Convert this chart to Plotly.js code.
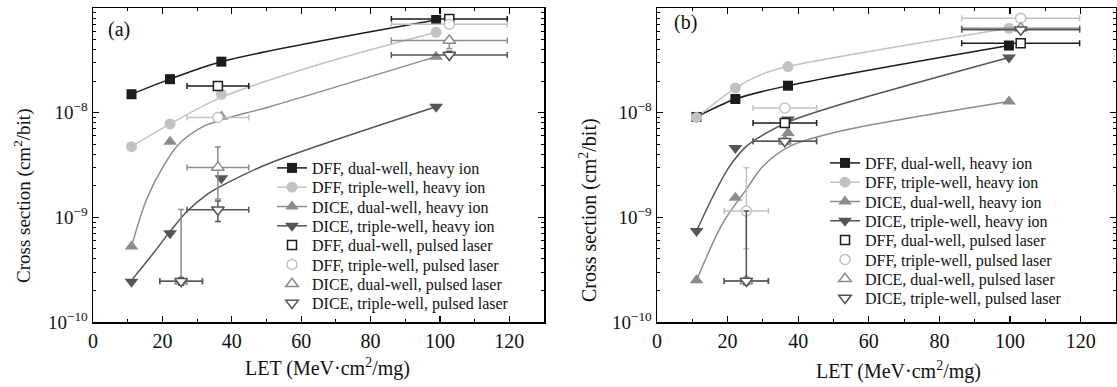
<!DOCTYPE html>
<html><head><meta charset="utf-8">
<script src="https://cdn.plot.ly/plotly-3.0.1.min.js"></script>
<style>html,body{margin:0;padding:0;background:#fff}#chart{width:1117px;height:387px}</style>
</head><body><div id="chart"></div>
<script>
// ===== Series names =====
const seriesNames = [
  "DFF, dual-well, heavy ion", "DFF, triple-well, heavy ion",
  "DICE, dual-well, heavy ion", "DICE, triple-well, heavy ion",
  "DFF, dual-well, pulsed laser", "DFF, triple-well, pulsed laser",
  "DICE, dual-well, pulsed laser", "DICE, triple-well, pulsed laser"
];
const xTickVals = [0, 20, 40, 60, 80, 100, 120];
const yTickVals = [1e-10, 1e-9, 1e-8, 1e-7];
const yTickText = ["10<sup>−10</sup>", "10<sup>−9</sup>", "10<sup>−8</sup>", "10<sup>−7</sup>"];

// ===== Panel (a): heavy ion =====
const aLET_HI = [11.1, 22.2, 37.0, 98.9];
const a_dffDual_HI = [1.5e-8, 2.09e-8, 3.07e-8, 7.68e-8];
const a_dffTriple_HI = [4.73e-9, 7.8e-9, 1.5e-8, 5.86e-8];
const a_diceDual_HI = [5.25e-10, 5.28e-9, 9.2e-9, 3.43e-8];
const a_diceTriple_HI = [2.43e-10, 7.05e-10, 2.36e-9, 1.14e-8];
// Panel (a): fitted curves
const a_fitDffDualX = [11.1, 22.2, 37.0, 98.9];
const a_fitDffDualY = [1.5e-8, 2.09e-8, 3.07e-8, 7.68e-8];
const a_fitDffTripleX = [11.1, 22.2, 37.0, 66.3, 98.9];
const a_fitDffTripleY = [4.73e-9, 7.8e-9, 1.4e-8, 2.96e-8, 5.86e-8];
const a_fitDiceDualX = [11.1, 15.4, 20.2, 25.0, 31.7, 38.5, 50.9, 98.9];
const a_fitDiceDualY = [5.25e-10, 1.47e-9, 3.05e-9, 5.1e-9, 7.35e-9, 8.83e-9, 1.14e-8, 3.43e-8];
const a_fitDiceTripleX = [11.1, 17.4, 22.2, 27.0, 32.7, 39.4, 50.9, 98.9];
const a_fitDiceTripleY = [2.5e-10, 4.54e-10, 7.3e-10, 1.13e-9, 1.64e-9, 2.19e-9, 3.29e-9, 1.14e-8];
// Panel (a): pulsed laser
const a_dffDual_PL_x = [36.0, 102.7];
const a_dffDual_PL_y = [1.8e-8, 7.85e-8];
const a_dffDual_PL_xerr = [8.9, 16.7];
const a_dffDual_PL_yerr = [1.2e-9, 3e-9];
const a_dffTriple_PL_x = [36.0, 102.7];
const a_dffTriple_PL_y = [9.0e-9, 7.0e-8];
const a_dffTriple_PL_xerr = [8.9, 16.7];
const a_dffTriple_PL_yerr = [5e-10, 2.5e-9];
const a_diceDual_PL_x = [25.4, 36.0, 102.7];
const a_diceDual_PL_y = [2.45e-10, 3.0e-9, 4.9e-8];
const a_diceDual_PL_xerr = [6.15, 8.9, 16.7];
const a_diceDual_PL_yplus = [9.4e-10, 1.7e-9, 2e-9];
const a_diceDual_PL_yminus = [2e-11, 1.5e-9, 8e-9];
const a_diceTriple_PL_x = [25.4, 36.0, 102.7];
const a_diceTriple_PL_y = [2.45e-10, 1.18e-9, 3.56e-8];
const a_diceTriple_PL_xerr = [6.15, 8.9, 16.7];
const a_diceTriple_PL_yplus = [2e-11, 2.5e-10, 3e-9];
const a_diceTriple_PL_yminus = [2e-11, 2.7e-10, 2e-9];

// ===== Panel (b): heavy ion =====
const bLET_HI = [11.2, 22.2, 37.1, 99.7];
const b_dffDual_HI = [9.1e-9, 1.35e-8, 1.81e-8, 4.38e-8];
const b_dffTriple_HI = [9.0e-9, 1.72e-8, 2.76e-8, 6.4e-8];
const b_diceDual_HI = [2.5e-10, 1.54e-9, 6.4e-9, 1.28e-8];
const b_diceTriple_HI = [7.4e-10, 4.6e-9, 8.6e-9, 3.37e-8];
// Panel (b): fitted curves
const b_fitDffDualX = [11.2, 22.2, 37.1, 99.7];
const b_fitDffDualY = [9.1e-9, 1.35e-8, 1.81e-8, 4.38e-8];
const b_fitDffTripleX = [11.2, 22.2, 30.0, 37.1, 99.7];
const b_fitDffTripleY = [9.0e-9, 1.72e-8, 2.35e-8, 2.76e-8, 6.4e-8];
const b_fitDiceDualX = [11.2, 18.7, 25.3, 30.0, 37.6, 51.7, 99.7];
const b_fitDiceDualY = [2.5e-10, 8.9e-10, 1.85e-9, 3.08e-9, 4.77e-9, 6.64e-9, 1.28e-8];
const b_fitDiceTripleX = [11.2, 15.9, 20.6, 25.3, 31.0, 37.6, 51.7, 99.7];
const b_fitDiceTripleY = [7.4e-10, 1.6e-9, 3.08e-9, 4.77e-9, 6.4e-9, 8.26e-9, 1.19e-8, 3.37e-8];
// Panel (b): pulsed laser
const b_dffDual_PL_x = [36.2, 103.0];
const b_dffDual_PL_y = [7.98e-9, 4.61e-8];
const b_dffDual_PL_xerr = [9.0, 16.7];
const b_dffDual_PL_yerr = [5e-10, 2.5e-9];
const b_dffTriple_PL_x = [25.3, 36.2, 103.0];
const b_dffTriple_PL_y = [1.15e-9, 1.11e-8, 7.98e-8];
const b_dffTriple_PL_xerr = [6.25, 9.0, 16.7];
const b_dffTriple_PL_yplus = [1.82e-9, 5e-10, 4e-9];
const b_dffTriple_PL_yminus = [6.5e-10, 5e-10, 4e-9];
const b_diceDual_PL_x = [25.3, 36.2, 103.0];
const b_diceDual_PL_y = [2.47e-10, 5.33e-9, 6.4e-8];
const b_diceDual_PL_xerr = [6.25, 9.0, 16.7];
const b_diceDual_PL_yerr = [2e-11, 3e-10, 3e-9];
const b_diceTriple_PL_x = [25.3, 36.2, 103.0];
const b_diceTriple_PL_y = [2.47e-10, 5.33e-9, 6.2e-8];
const b_diceTriple_PL_xerr = [6.25, 9.0, 16.7];
const b_diceTriple_PL_yplus = [9e-10, 3e-10, 3e-9];
const b_diceTriple_PL_yminus = [2e-11, 3e-10, 3e-9];

// ===== Styles =====
const colors = ["#1c1c1c", "#c2c2c2", "#8c8c8c", "#555555"];
const symbols = ["square", "circle", "triangle-up", "triangle-down"];
const sizes = [10, 11, 12, 12];
const FONT = "'Liberation Serif', 'Times New Roman', Times, 'DejaVu Serif', serif";

function buildPanel(xa, ya, leg, hiX, hiYs, fits, pl) {
  const tr = [];
  fits.forEach((f, i) => {
    tr.push({x: f[0], y: f[1], xaxis: xa, yaxis: ya, mode: "lines", showlegend: false,
      line: {color: colors[i], width: 1.5, shape: "spline", smoothing: 0.9}, hoverinfo: "skip"});
  });
  hiYs.forEach((ys, i) => {
    tr.push({x: hiX, y: ys, xaxis: xa, yaxis: ya, mode: "markers", showlegend: false,
      marker: {symbol: symbols[i], size: sizes[i], color: colors[i]}});
  });
  hiYs.forEach((ys, i) => {
    tr.push({x: [null], y: [null], xaxis: xa, yaxis: ya, mode: "lines+markers", name: seriesNames[i],
      legend: leg, legendrank: i + 1,
      line: {color: colors[i], width: 1.5},
      marker: {symbol: symbols[i], size: sizes[i], color: colors[i]}});
  });
  pl.forEach((p, i) => {
    tr.push({x: p.x, y: p.y, xaxis: xa, yaxis: ya, mode: "markers", name: seriesNames[4 + i],
      legend: leg, legendrank: 5 + i,
      marker: {symbol: symbols[i], size: sizes[i] - 1, color: "#ffffff", line: {color: colors[i], width: 1.5}},
      error_x: {type: "data", array: p.xerr, color: colors[i], thickness: 1.5, width: 3},
      error_y: {type: "data", symmetric: false, array: p.yplus, arrayminus: p.yminus, color: colors[i], thickness: 1.5, width: 3}});
  });
  return tr;
}

const tracesA = buildPanel("x", "y", "legend", aLET_HI,
  [a_dffDual_HI, a_dffTriple_HI, a_diceDual_HI, a_diceTriple_HI],
  [[a_fitDffDualX, a_fitDffDualY], [a_fitDffTripleX, a_fitDffTripleY], [a_fitDiceDualX, a_fitDiceDualY], [a_fitDiceTripleX, a_fitDiceTripleY]],
  [
    {x: a_dffDual_PL_x, y: a_dffDual_PL_y, xerr: a_dffDual_PL_xerr, yplus: a_dffDual_PL_yerr, yminus: a_dffDual_PL_yerr},
    {x: a_dffTriple_PL_x, y: a_dffTriple_PL_y, xerr: a_dffTriple_PL_xerr, yplus: a_dffTriple_PL_yerr, yminus: a_dffTriple_PL_yerr},
    {x: a_diceDual_PL_x, y: a_diceDual_PL_y, xerr: a_diceDual_PL_xerr, yplus: a_diceDual_PL_yplus, yminus: a_diceDual_PL_yminus},
    {x: a_diceTriple_PL_x, y: a_diceTriple_PL_y, xerr: a_diceTriple_PL_xerr, yplus: a_diceTriple_PL_yplus, yminus: a_diceTriple_PL_yminus}
  ]);
const tracesB = buildPanel("x2", "y2", "legend2", bLET_HI,
  [b_dffDual_HI, b_dffTriple_HI, b_diceDual_HI, b_diceTriple_HI],
  [[b_fitDffDualX, b_fitDffDualY], [b_fitDffTripleX, b_fitDffTripleY], [b_fitDiceDualX, b_fitDiceDualY], [b_fitDiceTripleX, b_fitDiceTripleY]],
  [
    {x: b_dffDual_PL_x, y: b_dffDual_PL_y, xerr: b_dffDual_PL_xerr, yplus: b_dffDual_PL_yerr, yminus: b_dffDual_PL_yerr},
    {x: b_dffTriple_PL_x, y: b_dffTriple_PL_y, xerr: b_dffTriple_PL_xerr, yplus: b_dffTriple_PL_yplus, yminus: b_dffTriple_PL_yminus},
    {x: b_diceDual_PL_x, y: b_diceDual_PL_y, xerr: b_diceDual_PL_xerr, yplus: b_diceDual_PL_yerr, yminus: b_diceDual_PL_yerr},
    {x: b_diceTriple_PL_x, y: b_diceTriple_PL_y, xerr: b_diceTriple_PL_xerr, yplus: b_diceTriple_PL_yplus, yminus: b_diceTriple_PL_yminus}
  ]);

const xMinor = [10, 30, 50, 70, 90, 110, 130];
const yMinor = [];
[1e-10, 1e-9, 1e-8].forEach(d => { for (let k = 2; k <= 9; k++) yMinor.push(d * k); });

function xAxis(domain, anchor) {
  return {domain: domain, anchor: anchor, range: [0, 130], tickmode: "array", tickvals: xTickVals,
    ticks: "inside", ticklen: 6, tickwidth: 1.2, tickcolor: "#000", mirror: "allticks",
    showline: true, linecolor: "#000", linewidth: 1.5, showgrid: false, zeroline: false,
    minor: {tickvals: xMinor, ticks: "inside", ticklen: 3, tickwidth: 1, tickcolor: "#000"},
    tickfont: {family: FONT, size: 20, color: "#111"}, automargin: false};
}
function yAxis(anchor) {
  return {domain: [0, 1], anchor: anchor, type: "log", range: [-10, -7], tickmode: "array",
    tickvals: yTickVals, ticktext: yTickText,
    ticks: "inside", ticklen: 6, tickwidth: 1.2, tickcolor: "#000", mirror: "allticks",
    showline: true, linecolor: "#000", linewidth: 1.5, showgrid: false, zeroline: false,
    minor: {tickvals: yMinor, ticks: "inside", ticklen: 3, tickwidth: 1, tickcolor: "#000"},
    tickfont: {family: FONT, size: 19, color: "#111"}, automargin: false};
}
const W = 1117, T = 8, B = 322, PH = B - T;
const px = p => p / W;
const py = p => (B - p) / PH;
const LEGEND_STEP = 19.3;

const layout = {
  width: 1117, height: 387,
  margin: {l: 0, r: 0, t: T, b: 387 - B},
  paper_bgcolor: "#fff", plot_bgcolor: "#fff",
  font: {family: FONT, color: "#111"},
  showlegend: true,
  xaxis: xAxis([px(93), px(544)], "y"),
  yaxis: yAxis("x"),
  xaxis2: xAxis([px(657), px(1116)], "y2"),
  yaxis2: yAxis("x2"),
  legend: {x: px(272), y: py(151), xanchor: "left", yanchor: "top", bgcolor: "rgba(0,0,0,0)",
    font: {family: FONT, size: 16, color: "#111"}, traceorder: "normal", tracegroupgap: 0},
  legend2: {x: px(825), y: py(146), xanchor: "left", yanchor: "top", bgcolor: "rgba(0,0,0,0)",
    font: {family: FONT, size: 16, color: "#111"}, traceorder: "normal", tracegroupgap: 0},
  annotations: [
    {text: "(a)", xref: "paper", yref: "paper", x: px(106), y: py(30), xanchor: "left", yanchor: "middle", showarrow: false, font: {family: FONT, size: 20, color: "#111"}},
    {text: "(b)", xref: "paper", yref: "paper", x: px(672), y: py(23), xanchor: "left", yanchor: "middle", showarrow: false, font: {family: FONT, size: 20, color: "#111"}},
    {text: "Cross section (cm<sup>2</sup>/bit)", xref: "paper", yref: "paper", x: px(22), y: py(196), textangle: -90, xanchor: "center", yanchor: "middle", showarrow: false, font: {family: FONT, size: 19, color: "#111"}},
    {text: "Cross section (cm<sup>2</sup>/bit)", xref: "paper", yref: "paper", x: px(588), y: py(210), textangle: -90, xanchor: "center", yanchor: "middle", showarrow: false, font: {family: FONT, size: 20, color: "#111"}},
    {text: "LET (MeV·cm<sup>2</sup>/mg)", xref: "paper", yref: "paper", x: px(327), y: py(367), xanchor: "center", yanchor: "middle", showarrow: false, font: {family: FONT, size: 20, color: "#111"}},
    {text: "LET (MeV·cm<sup>2</sup>/mg)", xref: "paper", yref: "paper", x: px(898), y: py(370), xanchor: "center", yanchor: "middle", showarrow: false, font: {family: FONT, size: 20, color: "#111"}}
  ]
};

Plotly.newPlot("chart", tracesA.concat(tracesB), layout, {displayModeBar: false, staticPlot: true}).then(gd => {
  // tighten legend row spacing to match the reference (both legends)
  gd.querySelectorAll("g.legend, g.legend2").forEach(leg => {
    const items = leg.querySelectorAll("g.traces");
    if (!items.length) return;
    const m = /translate\(\s*([-\d.]+)[ ,]+([-\d.]+)\s*\)/.exec(items[0].getAttribute("transform") || "");
    if (!m) return;
    const x0 = parseFloat(m[1]), y0 = parseFloat(m[2]);
    items.forEach((g, i) => g.setAttribute("transform", "translate(" + x0 + "," + (y0 + i * LEGEND_STEP) + ")"));
  });
});
</script>
</body></html>
